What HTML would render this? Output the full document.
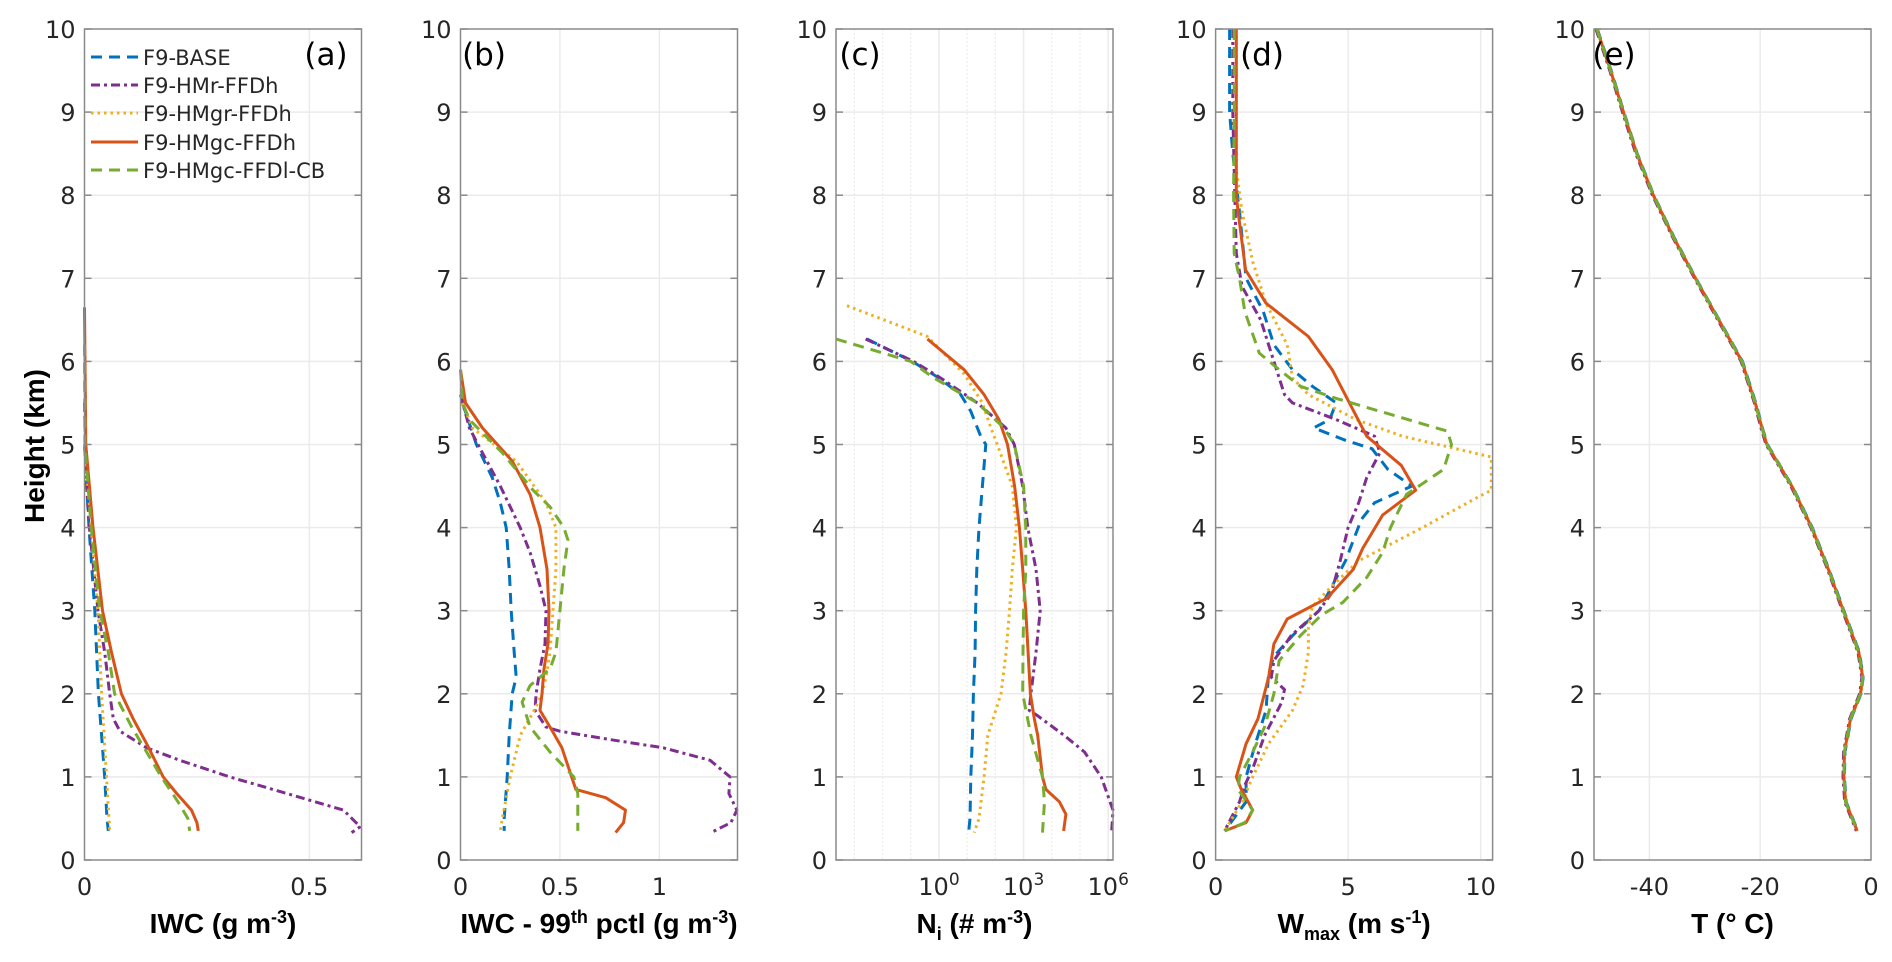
<!DOCTYPE html>
<html><head><meta charset="utf-8">
<style>
html,body{margin:0;padding:0;background:#fff;}
svg{display:block;}
.tk{font-family:"DejaVu Sans","Liberation Sans",sans-serif;font-size:24px;fill:#262626;}
.lg{font-family:"DejaVu Sans","Liberation Sans",sans-serif;font-size:21px;fill:#262626;}
.xl{font-family:"Liberation Sans Narrow","Liberation Sans",sans-serif;font-weight:bold;font-size:28px;fill:#000;}
.pl{font-family:"DejaVu Sans","Liberation Sans",sans-serif;font-size:31px;fill:#000;}
</style></head>
<body>
<svg id="fig" width="1892" height="962" xmlns="http://www.w3.org/2000/svg"></svg>
<script>
// ---- data (height km, value) per series per panel ----
const seriesNames = ["F9-BASE","F9-HMr-FFDh","F9-HMgr-FFDh","F9-HMgc-FFDh","F9-HMgc-FFDl-CB"];
// Panel a: IWC
const aH0=[5,4,3,2,1.5,1,0.5,0.35];            const aV0=[0,0.01,0.023,0.031,0.038,0.045,0.05,0.053];
const aH1=[5.5,4.5,4,3,2.5,2,1.7,1.55,1.35,1.2,1,0.8,0.6,0.4,0.33]; const aV1=[0,0.005,0.011,0.03,0.045,0.056,0.064,0.079,0.138,0.212,0.323,0.45,0.576,0.613,0.594];
const aH2=[5,4,3,2,1,0.35];                    const aV2=[0,0.015,0.03,0.038,0.049,0.056];
const aH3=[6.65,5,4,3,2.5,2,1.7,1.4,1,0.8,0.6,0.45,0.35]; const aV3=[0,0.003,0.019,0.04,0.06,0.082,0.108,0.138,0.175,0.205,0.238,0.25,0.253];
const aH4=[6.2,5,4,3,2.5,2,1.6,1.3,1,0.7,0.5,0.35]; const aV4=[0,0.001,0.015,0.034,0.053,0.067,0.105,0.138,0.171,0.208,0.23,0.234];
// Panel b: IWC 99th pctl
const bH0=[5.5,5,4.6,4.3,4,3.5,3,2.5,2.2,2,1.5,1,0.5,0.35]; const bV0=[0.01,0.08,0.16,0.2,0.23,0.245,0.255,0.27,0.28,0.26,0.245,0.235,0.22,0.22];
const bH1=[5.6,5.2,4.9,4.5,4,3.7,3.3,3,2.6,2.3,2,1.8,1.6,1.55,1.45,1.35,1.2,1,0.8,0.6,0.45,0.33]; const bV1=[0,0.045,0.11,0.2,0.3,0.35,0.4,0.43,0.425,0.4,0.38,0.375,0.43,0.5,0.75,1.02,1.255,1.356,1.35,1.39,1.36,1.26];
const bH2=[5.5,5.2,4.8,4.3,4,3.5,3,2.5,2.2,2,1.8,1.5,1,0.5,0.35]; const bV2=[0.01,0.06,0.28,0.43,0.48,0.48,0.465,0.45,0.43,0.41,0.37,0.3,0.25,0.21,0.2];
const bH3=[5.9,5.5,5.2,4.8,4.4,4,3.5,3,2.6,2.3,2,1.8,1.6,1.35,0.85,0.75,0.6,0.45,0.33]; const bV3=[0,0.025,0.11,0.26,0.35,0.4,0.435,0.445,0.44,0.42,0.41,0.4,0.45,0.51,0.58,0.73,0.83,0.82,0.78];
const bH4=[5.9,5.5,5.3,4.9,4.45,4.25,4,3.85,3.5,3,2.5,2.3,2.1,1.9,1.6,1.3,1,0.8,0.35]; const bV4=[0,0.01,0.045,0.21,0.365,0.45,0.52,0.54,0.52,0.5,0.48,0.45,0.35,0.31,0.35,0.45,0.57,0.59,0.59];
// Panel c: Ni (log10 values)
const cH0=[6.27,6,5.8,5.6,5.4,5.1,5,4.5,4,3.5,3,2.5,2,1.5,1,0.5,0.33]; const cV0=[-2.55,-0.95,0.0,0.77,1.13,1.48,1.66,1.54,1.42,1.34,1.3,1.28,1.22,1.19,1.13,1.1,1.05];
const cH1=[6.27,6,5.8,5.5,5.2,5,4.5,4,3.5,3,2.5,2,1.8,1.75,1.5,1.3,1,0.6,0.33]; const cV1=[-2.6,-0.9,0.06,1.36,2.37,2.67,2.97,3.15,3.44,3.59,3.44,3.26,3.2,3.44,4.44,5.16,5.75,6.17,6.12];
const cH2=[6.67,6.3,5.85,5.5,5.2,5,4.5,4,3.5,3,2.5,2,1.5,1,0.5,0.33]; const cV2=[-3.26,-0.41,0.89,1.54,1.84,2.07,2.6,2.75,2.6,2.5,2.38,2.2,1.73,1.6,1.42,1.25];
const cH3=[6.27,5.9,5.6,5.3,5,4.5,4,3.5,3,2.5,2,1.7,1.5,1,0.85,0.7,0.55,0.35]; const cV3=[-0.41,0.89,1.6,2.13,2.43,2.68,2.85,2.97,3.08,3.16,3.24,3.38,3.5,3.67,3.79,4.27,4.5,4.42];
const cH4=[6.27,6,5.8,5.5,5.2,5,4.5,4,3.5,3,2.5,2,1.5,1,0.7,0.33]; const cV4=[-3.65,-1,-0.18,1.36,2.31,2.67,3,3.08,3.08,3,2.98,2.97,3.26,3.67,3.74,3.67];
// Panel d: Wmax
const dH0=[10,9,8.5,7.8,7,6.6,6.2,5.9,5.7,5.5,5.3,5.2,5.05,4.95,4.7,4.5,4.3,4.1,3.6,3.3,3,2.7,2.45,2.25,1.8,1.4,1,0.7,0.35]; const dV0=[0.53,0.53,0.65,0.9,1.15,1.8,2.2,2.9,3.65,4.55,4.3,3.7,4.9,5.9,6.5,7.4,6,5.5,4.9,4.4,3.9,2.9,2.2,2,1.9,1.5,1.15,1.15,0.34];
const dH1=[10,9,8.3,7.3,6.9,6.5,6,5.6,5.5,5.3,5.1,4.9,4.6,4.3,4,3.6,3.2,3,2.7,2.4,2.2,2.05,1.9,1.5,1.1,0.9,0.7,0.35]; const dV1=[0.65,0.65,0.7,0.78,1,1.7,2.2,2.6,2.9,4.55,6,6.2,5.7,5.4,5,4.7,4.35,3.9,2.85,2.2,2.1,2.6,2.5,1.85,1.4,1.1,0.9,0.34];
const dH2=[10,8.3,7.8,7.2,6.7,6.2,5.8,5.6,5.3,5.1,4.85,4.45,4.35,4,3.75,3.6,3.3,3.05,2.8,2.5,2.1,1.8,1.4,1,0.7,0.35]; const dV2=[0.78,0.78,1,1.4,1.9,2.7,2.9,3.5,5.3,7.05,10.4,10.4,9.8,7.8,6.3,5.4,4.4,3.65,3.5,3.5,3.3,2.9,2,1.4,1,0.34];
const dH3=[10,8,7.8,7.1,6.7,6.3,5.9,5.1,4.75,4.45,4.15,3.75,3.5,3.15,2.9,2.6,2.2,1.7,1.4,1,0.85,0.6,0.45,0.35]; const dV3=[0.78,0.78,0.85,1.13,1.9,3.5,4.4,5.7,7,7.55,6.3,5.55,5.2,4.2,2.7,2.2,2,1.6,1.15,0.78,0.97,1.4,1.15,0.34];
const dH4=[10,9,8,7.3,7,6.6,6.1,5.9,5.7,5.55,5.16,5,4.7,4.4,4,3.7,3.4,3.1,2.95,2.7,2.4,2,1.6,1.3,1,0.85,0.6,0.45,0.35]; const dV4=[0.7,0.7,0.68,0.7,0.9,1.1,1.65,2.4,3.2,4.6,8.75,8.9,8.6,7.2,6.6,6.3,5.7,4.8,4,3.2,2.4,2.2,1.85,1.4,0.9,0.85,1.4,1.1,0.35];
// Panel e: Temperature (all series nearly identical)
const eH=[10,9.5,9,8.5,8,7.5,7,6.5,6,5.5,5.2,5,4.5,4,3.5,3,2.5,2.2,2,1.7,1.3,1,0.7,0.35];
const eV=[-49.5,-47,-44.7,-42.3,-39.3,-35.7,-31.7,-27.5,-23.3,-20.9,-19.7,-18.8,-14.3,-10.7,-7.7,-5,-2.2,-1.5,-1.9,-3.7,-4.8,-4.9,-4.6,-2.5];
const eOff=[0.1,-0.15,0.05,0,0];
// tick labels
const aTicks=[0,0.5], bTicks=[0,0.5,1], cTicks=[0,3,6], dTicks=[0,5,10], eTicks=[-40,-20,0];
const yTicks=[0,1,2,3,4,5,6,7,8,9,10];

const colors=["#0072BD","#7E2F8E","#EDB120","#D95319","#77AC30"];
const dashes=["11 7","9 4 3 4","2.5 4","","11 7"];
const NS="http://www.w3.org/2000/svg";
const svg=document.getElementById('fig');
const TOP=29, BOT=860, W=277;
function el(tag,attrs,parent){const e=document.createElementNS(NS,tag);for(const k in attrs)e.setAttribute(k,attrs[k]);(parent||svg).appendChild(e);return e;}
const yS=h=>BOT-(h/10)*(BOT-TOP);

const panels=[
 {id:"a",left:84.5,min:0,max:0.616,ticks:aTicks,H:[aH0,aH1,aH2,aH3,aH4],V:[aV0,aV1,aV2,aV3,aV4],lab:"(a)",labX:326,xl:'IWC (g m<tspan dy="-10" font-size="18">-3</tspan><tspan dy="10">)</tspan>'},
 {id:"b",left:460.5,min:0,max:1.393,ticks:bTicks,H:[bH0,bH1,bH2,bH3,bH4],V:[bV0,bV1,bV2,bV3,bV4],lab:"(b)",labX:484,xl:'IWC - 99<tspan dy="-10" font-size="18">th</tspan><tspan dy="10"> pctl (g m</tspan><tspan dy="-10" font-size="18">-3</tspan><tspan dy="10">)</tspan>'},
 {id:"c",left:836,min:-3.65,max:6.17,ticks:cTicks,log:true,H:[cH0,cH1,cH2,cH3,cH4],V:[cV0,cV1,cV2,cV3,cV4],lab:"(c)",labX:860,xl:'N<tspan dy="7" font-size="18">i</tspan><tspan dy="-7"> (# m</tspan><tspan dy="-10" font-size="18">-3</tspan><tspan dy="10">)</tspan>'},
 {id:"d",left:1215.6,min:0,max:10.45,ticks:dTicks,H:[dH0,dH1,dH2,dH3,dH4],V:[dV0,dV1,dV2,dV3,dV4],lab:"(d)",labX:1262,xl:'W<tspan dy="7" font-size="18">max</tspan><tspan dy="-7"> (m s</tspan><tspan dy="-10" font-size="18">-1</tspan><tspan dy="10">)</tspan>'},
 {id:"e",left:1594,min:-50,max:0,ticks:eTicks,H:[eH,eH,eH,eH,eH],V:null,lab:"(e)",labX:1614,xl:'T (° C)'}
];

panels.forEach((p,pi)=>{
 const g=el('g',{});
 
 
 const xS=v=>p.left+(v-p.min)/(p.max-p.min)*W;
 yTicks.forEach(t=>{ if(t>0&&t<10){const l=el('line',{x1:p.left,x2:p.left+W,y1:yS(t),y2:yS(t),stroke:"#ebebeb","stroke-width":1.5},g);}});
 if(p.log){ for(let d=Math.ceil(p.min);d<=Math.floor(p.max);d++){const l=el('line',{x1:xS(d),x2:xS(d),y1:TOP,y2:BOT,stroke:"#ececec","stroke-width":1.2,"stroke-dasharray":"2 2"},g);}}
 p.ticks.forEach(t=>{ if(t>p.min&&t<p.max){const l=el('line',{x1:xS(t),x2:xS(t),y1:TOP,y2:BOT,stroke:"#ebebeb","stroke-width":1.5},g);}});
 for(let s=0;s<5;s++){
  const H=p.H[s]; const V=p.V?p.V[s]:eV.map(v=>v+eOff[s]);
  const d=H.map((h,i)=>(i?'L':'M')+xS(V[i]).toFixed(1)+','+yS(h).toFixed(1)).join(' ');
  const path=el('path',{d:d,fill:"none",stroke:colors[s],"stroke-width":3,"stroke-dasharray":dashes[s],"stroke-linejoin":"round"},g);
  
  
 }
 const r=el('rect',{x:p.left,y:TOP,width:W,height:BOT-TOP,fill:"none",stroke:"#8a8a8a","stroke-width":1.5},g);
 
 
 yTicks.forEach(t=>{
  el('line',{x1:p.left,x2:p.left+7,y1:yS(t),y2:yS(t),stroke:"#8a8a8a","stroke-width":1.5},g);
  el('line',{x1:p.left+W-7,x2:p.left+W,y1:yS(t),y2:yS(t),stroke:"#8a8a8a","stroke-width":1.5},g);
  const tx=el('text',{x:p.left-9,y:yS(t)+9,"text-anchor":"end",class:"tk"},g);
  tx.textContent=t;
  
  
 });
 p.ticks.forEach(t=>{
  const tx=el('text',{x:xS(t),y:895,"text-anchor":"middle",class:"tk"},g);
  if(p.log){tx.innerHTML='10<tspan dy="-10" font-size="17">'+t+'</tspan>';}
  else tx.textContent=t;
  
  
 });
 const xl=el('text',{x:p.left+W/2,y:933,"text-anchor":"middle",class:"xl"},g);
 xl.innerHTML=p.xl;
 
 
 const pl=el('text',{x:p.labX,y:65,"text-anchor":"middle",class:"pl"},g);
 pl.textContent=p.lab;
 
 
});

const yt=el('text',{x:0,y:0,"text-anchor":"middle",class:"xl",transform:"translate(44,446) rotate(-90)"});
yt.textContent="Height (km)";



const lg=el('g',{});


const ly=[57,85,113,142,170];
seriesNames.forEach((n,i)=>{
 const e=el('g',{},lg);
 
 
 el('line',{x1:91,x2:138,y1:ly[i],y2:ly[i],stroke:colors[i],"stroke-width":3,"stroke-dasharray":dashes[i]},e);
 const t=el('text',{x:143,y:ly[i]+8,class:"lg"},e);
 t.textContent=n;
});
</script>
</body></html>
